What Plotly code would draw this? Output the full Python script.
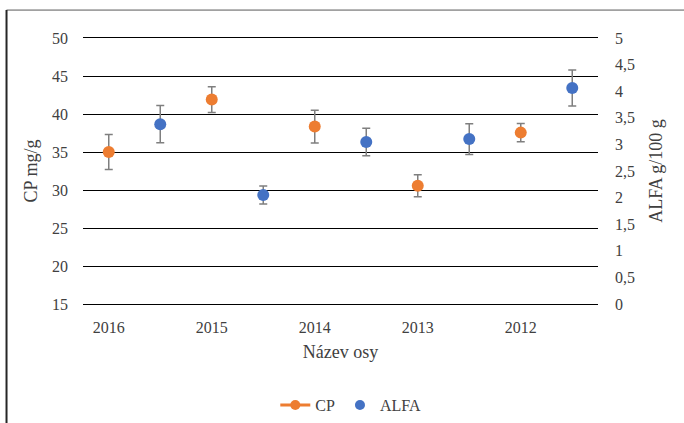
import plotly.graph_objects as go

years = ["2016", "2015", "2014", "2013", "2012"]
cp_values = [35.0, 41.9, 38.35, 30.55, 37.55]
cp_errors = [2.3, 1.7, 2.15, 1.45, 1.2]
alfa_values = [3.38, 2.05, 3.045, 3.10, 4.06]
alfa_errors = [0.35, 0.17, 0.26, 0.29, 0.34]

cp_pos = list(range(len(years)))
alfa_pos = [p + 0.5 for p in cp_pos]

ORANGE = "#ED7D31"
BLUE = "#4472C4"
GREY = "#7F7F7F"
FONT = "Liberation Serif, Times New Roman, DejaVu Serif, serif"
TXT = "#404040"

fig = go.Figure()

fig.add_trace(go.Scatter(
    x=cp_pos, y=cp_values, mode="markers", name="CP", showlegend=False,
    marker=dict(color=ORANGE, size=12),
    error_y=dict(type="data", array=cp_errors, color=GREY, thickness=1.5, width=4),
    yaxis="y",
))
fig.add_trace(go.Scatter(
    x=alfa_pos, y=alfa_values, mode="markers", name="ALFA", showlegend=False,
    marker=dict(color=BLUE, size=12),
    error_y=dict(type="data", array=alfa_errors, color=GREY, thickness=1.5, width=4),
    yaxis="y2",
))
# legend entries
fig.add_trace(go.Scatter(
    x=[None], y=[None], mode="lines+markers", name="CP",
    line=dict(color=ORANGE, width=3), marker=dict(color=ORANGE, size=10),
))
fig.add_trace(go.Scatter(
    x=[None], y=[None], mode="markers", name="ALFA",
    marker=dict(color=BLUE, size=10),
))

fig.update_layout(
    width=684, height=423,
    margin=dict(l=83, r=86, t=38, b=119, autoexpand=False),
    paper_bgcolor="white", plot_bgcolor="white",
    font=dict(family=FONT, size=16, color=TXT),
    separators=", ",
    xaxis=dict(
        range=[-0.25, 4.75], tickvals=cp_pos, ticktext=years,
        showgrid=False, zeroline=False,
        showline=True, mirror=True, linecolor="black", linewidth=1,
        ticks="", ticklabelstandoff=9, automargin=False,
        title=dict(text="Název osy", font=dict(size=18, color=TXT), standoff=10),
    ),
    yaxis=dict(
        range=[15, 50], dtick=5, showgrid=True, gridcolor="black", gridwidth=1,
        zeroline=False, showline=False, ticks="", ticklabelstandoff=14,
        automargin=False,
        title=dict(text="CP mg/g", font=dict(size=18, color=TXT), standoff=9),
    ),
    yaxis2=dict(
        range=[0, 5], dtick=0.5, overlaying="y", side="right",
        showgrid=False, zeroline=False, showline=False, ticks="",
        ticklabelstandoff=16, tickformat=".1~f", automargin=False,
        title=dict(text="ALFA g/100 g", font=dict(size=18, color=TXT), standoff=15),
    ),
    legend=dict(orientation="h", x=0.52, xanchor="center", y=-0.38, yanchor="middle",
                font=dict(size=16, color=TXT), itemwidth=30),
    shapes=[
        dict(type="line", xref="paper", yref="paper",
             x0=-0.1485, x1=1.2, y0=1.105, y1=1.105,
             line=dict(color="#595959", width=1)),
        dict(type="line", xref="paper", yref="paper",
             x0=-0.1485, x1=-0.1485, y0=1.105, y1=-0.5,
             line=dict(color="#262626", width=2)),
    ],
)

fig.write_html(
    "out.html",
    config={"displayModeBar": False},
    post_script="document.body.style.margin='0';document.body.style.overflow='hidden';",
)
